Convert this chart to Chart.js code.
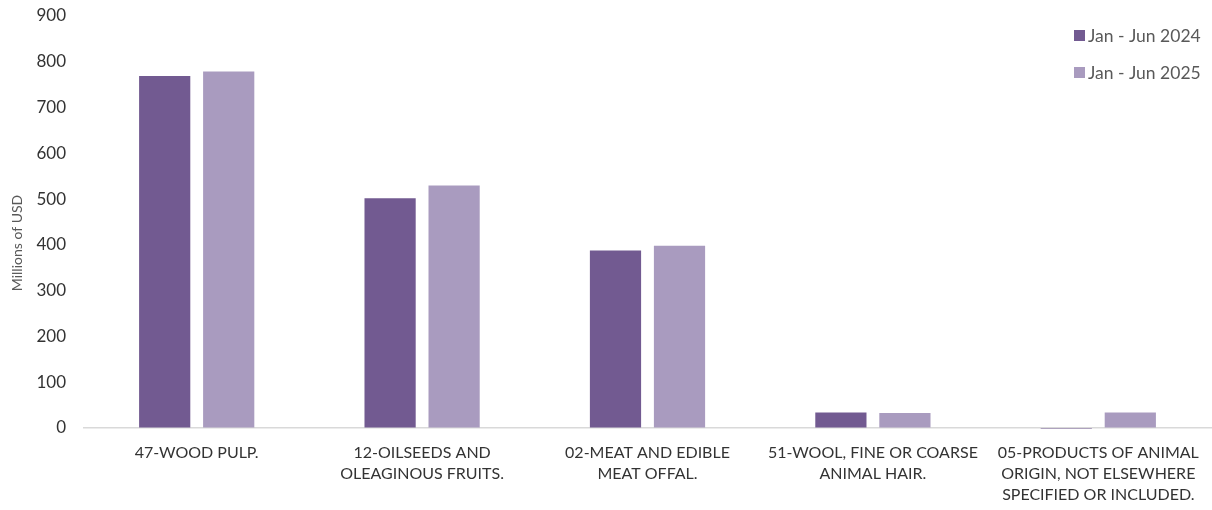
<!DOCTYPE html>
<html>
<head>
<meta charset="utf-8">
<script src="https://cdn.jsdelivr.net/npm/chart.js@4/dist/chart.umd.min.js"></script>
<style>
    html, body { margin: 0; padding: 0; background: #fff; }
    #wrap { width: 1212px; height: 510px; position: relative; }
</style>
</head>
<body>
<div id="wrap"><canvas id="exportsChart"></canvas></div>
<script>
// 数据
const categories = [
    ['47-WOOD PULP.'],
    ['12-OILSEEDS AND', 'OLEAGINOUS FRUITS.'],
    ['02-MEAT AND EDIBLE', 'MEAT OFFAL.'],
    ['51-WOOL, FINE OR COARSE', 'ANIMAL HAIR.'],
    ['05-PRODUCTS OF ANIMAL', 'ORIGIN, NOT ELSEWHERE', 'SPECIFIED OR INCLUDED.']
];
const seriesLabels = ['Jan - Jun 2024', 'Jan - Jun 2025'];
const values2024 = [769, 502, 388, 34, -2];
const values2025 = [779, 530, 398, 33, 34];
const yTicks = [0, 100, 200, 300, 400, 500, 600, 700, 800, 900];
const yTitle = 'Millions of USD';

const colors = ['#725A91', '#A99BBF'];
const fontFamily = 'Lato, "Liberation Sans", sans-serif';

// 图例和纵轴标题：画在固定位置
const cornerLegend = {
    id: 'cornerLegend',
    afterDraw(chart) {
        const ctx = chart.ctx;
        ctx.save();
        ctx.font = '17.5px ' + fontFamily;
        ctx.textBaseline = 'middle';
        chart.data.datasets.forEach((ds, i) => {
            const y = 35 + i * 37;
            ctx.fillStyle = ds.backgroundColor;
            ctx.fillRect(1074, y - 5, 11, 11);
            ctx.fillStyle = '#595959';
            ctx.fillText(ds.label, 1088, y + 1);
        });

        // 纵轴标题
        ctx.translate(17, 243);
        ctx.rotate(-Math.PI / 2);
        ctx.font = '14px ' + fontFamily;
        ctx.textAlign = 'center';
        ctx.fillStyle = '#595959';
        ctx.fillText(yTitle, 0, 0);
        ctx.restore();
    }
};

new Chart(document.getElementById('exportsChart'), {
    type: 'bar',
    data: {
        labels: categories,
        datasets: [
            { label: seriesLabels[0], data: values2024, backgroundColor: colors[0], clip: false },
            { label: seriesLabels[1], data: values2025, backgroundColor: colors[1], clip: false }
        ]
    },
    options: {
        responsive: true,
        maintainAspectRatio: false,
        animation: false,
        categoryPercentage: 0.568,
        barPercentage: 0.8,
        layout: { padding: { top: 16, right: 1, left: 5, bottom: 6 } },
        plugins: {
            legend: { display: false },
            tooltip: { enabled: false }
        },
        scales: {
            x: {
                afterFit: (axis) => { axis.height = 76; },
                grid: { display: false },
                border: { display: true, color: '#D9D9D9', width: 1.5 },
                ticks: {
                    color: '#333333',
                    font: { family: fontFamily, size: 16, lineHeight: 1.3125 },
                    maxRotation: 0,
                    autoSkip: false,
                    padding: 6
                }
            },
            y: {
                min: 0,
                max: 900,
                afterBuildTicks: (axis) => { axis.ticks = yTicks.map(v => ({ value: v })); },
                afterFit: (axis) => { axis.width = 79; },
                grid: {
                    display: true,
                    drawOnChartArea: false,
                    color: 'rgba(0,0,0,0)',
                    tickLength: 16
                },
                border: { display: false },
                ticks: {
                    color: '#333333',
                    font: { family: fontFamily, size: 17 },
                    padding: 2
                }
            }
        }
    },
    plugins: [cornerLegend]
});
</script>
</body>
</html>
